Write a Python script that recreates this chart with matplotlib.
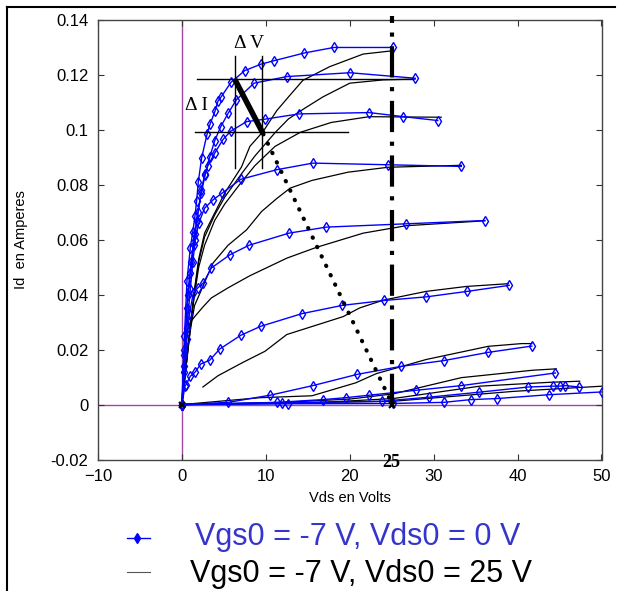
import numpy as np
import matplotlib
matplotlib.use('Agg')
import matplotlib.pyplot as plt
from matplotlib.lines import Line2D
from matplotlib.ticker import FuncFormatter

# courbes Vds0 = 0 V (bleu, avec marqueurs)
vds_a = [0, 0.3, 0.6, 1.0, 1.3, 1.55, 1.75, 1.95, 2.35, 3.0, 3.34, 3.93, 4.3, 4.7, 5.84, 7.5, 9.4, 11.0, 14.6, 18.1, 25.1]
id_a = [0, 0.025, 0.045, 0.057, 0.063, 0.0685, 0.074, 0.081, 0.0898, 0.0985, 0.102, 0.1067, 0.1105, 0.1121, 0.1173, 0.1216, 0.1239, 0.1252, 0.128, 0.130, 0.130]
vds_b = [0, 0.3, 0.7, 1.1, 1.5, 1.9, 2.3, 2.8, 3.3, 3.9, 4.6, 5.5, 6.5, 8.6, 12.5, 20.0, 27.8]
id_b = [0, 0.02, 0.04, 0.052, 0.062, 0.07, 0.077, 0.084, 0.09, 0.096, 0.101, 0.106, 0.111, 0.117, 0.1194, 0.1208, 0.1188]
vds_c = [0, 0.3, 0.6, 1.0, 1.4, 1.8, 2.3, 2.7, 3.1, 3.9, 4.9, 5.8, 7.7, 9.9, 13.9, 22.3, 26.4, 30.5]
id_c = [0, 0.018, 0.035, 0.048, 0.058, 0.067, 0.078, 0.0835, 0.087, 0.0915, 0.0965, 0.0995, 0.103, 0.1039, 0.1058, 0.1063, 0.1048, 0.1034]
vds_d = [0, 0.3, 0.6, 1.0, 1.3, 1.6, 2.0, 2.7, 3.7, 4.8, 7.0, 11.3, 15.6, 24.6, 33.3]
id_d = [0, 0.014, 0.028, 0.042, 0.052, 0.06, 0.066, 0.0715, 0.0745, 0.077, 0.082, 0.0855, 0.0879, 0.0873, 0.0867]
vds_e = [0, 0.3, 0.6, 0.9, 1.35, 1.9, 2.54, 3.5, 5.7, 8.0, 12.75, 17.2, 26.7, 36.1]
id_e = [0, 0.012, 0.024, 0.033, 0.0406, 0.0425, 0.0442, 0.0497, 0.0545, 0.058, 0.0624, 0.0646, 0.0658, 0.067]
vds_f = [0, 0.36, 0.5, 1.0, 1.6, 2.26, 3.3, 4.5, 7.0, 9.4, 14.3, 19.1, 24.1, 29.1, 34.0, 39.0]
id_f = [0, 0.0067, 0.0073, 0.0103, 0.0119, 0.0148, 0.0161, 0.0202, 0.0252, 0.0285, 0.0331, 0.0361, 0.0379, 0.0392, 0.0412, 0.0434]
vds_g = [0, 5.5, 10.5, 15.6, 20.9, 26.1, 31.2, 36.5, 41.7]
id_g = [0, 0.0008, 0.0034, 0.0069, 0.011, 0.0139, 0.016, 0.019, 0.0213]
vds_h = [0, 11.3, 16.8, 19.5, 22.3, 27.9, 33.3, 44.5]
id_h = [0, 0.0008, 0.0018, 0.0025, 0.0034, 0.0052, 0.0069, 0.0115]
vds_i = [0, 11.9, 23.8, 29.5, 35.4, 41.3, 44.2, 45.0, 45.7, 47.3]
id_i = [0, 0.0006, 0.0012, 0.0027, 0.0045, 0.0064, 0.0067, 0.0067, 0.0069, 0.0064]
vds_j = [0, 12.6, 25.1, 31.2, 34.4, 37.6, 43.8, 50.1]
id_j = [0, 0.0003, 0.0004, 0.0008, 0.0018, 0.0022, 0.0036, 0.0046]

# courbes Vds0 = 25 V (noir)
vds_k1 = [0, 0.5, 1.0, 1.5, 2.0, 2.7, 3.9, 5.1, 7.1, 8.1, 9.7, 11.3, 12.7, 14.4, 17.6, 21.6, 25.1]
id_k1 = [0, 0.015, 0.029, 0.042, 0.053, 0.0624, 0.0697, 0.077, 0.0865, 0.094, 0.0995, 0.107, 0.112, 0.118, 0.123, 0.1276, 0.1288]
vds_k2 = [0, 0.5, 1.0, 1.5, 2.0, 2.7, 3.9, 5.1, 7.1, 8.7, 11.1, 12.7, 14.7, 16.8, 20.0, 24.0, 27.8]
id_k2 = [0, 0.014, 0.028, 0.041, 0.052, 0.061, 0.069, 0.0755, 0.084, 0.0905, 0.099, 0.104, 0.108, 0.112, 0.117, 0.1182, 0.1185]
vds_k3 = [0, 0.5, 1.0, 1.5, 2.0, 2.7, 3.9, 5.1, 7.1, 8.7, 11.1, 14.1, 17.8, 22.3, 30.9]
id_k3 = [0, 0.014, 0.028, 0.04, 0.05, 0.058, 0.067, 0.073, 0.081, 0.087, 0.094, 0.0991, 0.1027, 0.1048, 0.1046]
vds_k4 = [0, 0.5, 1.0, 1.5, 2.5, 3.7, 5.5, 7.7, 9.5, 11.3, 12.9, 15.5, 19.8, 24.6, 33.3]
id_k4 = [0, 0.014, 0.027, 0.036, 0.043, 0.0515, 0.058, 0.0636, 0.0703, 0.075, 0.0788, 0.0816, 0.0846, 0.0864, 0.0871]
vds_k5 = [0, 0.3, 0.56, 1.0, 1.55, 2.5, 3.5, 5.5, 8.1, 12.5, 16.0, 21.6, 26.7, 36.1]
id_k5 = [0, 0.016, 0.026, 0.030, 0.0321, 0.0355, 0.0388, 0.0425, 0.0469, 0.0533, 0.0572, 0.0624, 0.0651, 0.0669]
vds_k6 = [2.5, 4.3, 7.3, 9.9, 12.5, 19.2, 21.2, 24.0, 29.1, 33.9, 38.9]
id_k6 = [0.0064, 0.0105, 0.0154, 0.0194, 0.0255, 0.032, 0.0352, 0.038, 0.0412, 0.043, 0.044]
vds_k7 = [0, 9.3, 15.5, 20.7, 23.2, 25.2, 29.1, 36.5, 40.5, 41.7]
id_k7 = [0, 0.0025, 0.0032, 0.0079, 0.0113, 0.013, 0.0164, 0.0212, 0.0222, 0.0222]
vds_k8 = [0, 12.0, 20.0, 25.2, 33.3, 41.8, 44.6]
id_k8 = [0, 0.0008, 0.002, 0.0039, 0.0098, 0.0125, 0.013]
vds_k9 = [0, 15.0, 25.2, 35.5, 43.8, 47.4]
id_k9 = [0, 0.0005, 0.0022, 0.0067, 0.0081, 0.0085]
vds_k10 = [0, 25.2, 39.5, 50.1]
id_k10 = [0, 0.0012, 0.0048, 0.0067]

blue_curves = [(vds_a, id_a), (vds_b, id_b), (vds_c, id_c), (vds_d, id_d), (vds_e, id_e),
               (vds_f, id_f), (vds_g, id_g), (vds_h, id_h), (vds_i, id_i), (vds_j, id_j)]
black_curves = [(vds_k1, id_k1), (vds_k2, id_k2), (vds_k3, id_k3), (vds_k4, id_k4), (vds_k5, id_k5),
                (vds_k6, id_k6), (vds_k7, id_k7), (vds_k8, id_k8), (vds_k9, id_k9), (vds_k10, id_k10)]

# construction Delta V / Delta I
dv_x = [6.3, 9.6]
di_y = [0.1184, 0.0994]
pente_x = [6.3, 9.7]
pente_y = [0.1184, 0.0985]
pointille_x = [9.7, 25.0]
pointille_y = [0.0985, 0.0005]
vds_repere = 25

legend_labels = ['Vgs0 = -7 V, Vds0 = 0 V', 'Vgs0 = -7 V, Vds0 = 25 V']

plt.rcParams['font.family'] = ['Liberation Sans', 'DejaVu Sans']
fig = plt.figure(figsize=(6.21, 5.91), dpi=100)
ax = fig.add_axes([98 / 621, 1 - 459.5 / 591, 503.5 / 621, 439.5 / 591])

magenta = '#a346a8'
ax.axhline(0, color=magenta, lw=1.0, zorder=1)
ax.axvline(0, color=magenta, lw=1.0, zorder=1)

for x, y in black_curves:
    ax.plot(x, y, color='black', lw=0.9, zorder=2)
for x, y in blue_curves:
    ax.plot(x, y, color='blue', lw=1.0, marker='d', ms=5.5, mfc='none', mew=1.0, zorder=3)

# réticule
ax.plot([dv_x[0]] * 2, [0.1268, 0.0862], color='black', lw=1.0, zorder=4)
ax.plot([dv_x[1]] * 2, [0.1268, 0.0862], color='black', lw=1.0, zorder=4)
ax.plot([1.75, 27.5], [di_y[0]] * 2, color='black', lw=1.0, zorder=4)
ax.plot([1.55, 19.8], [di_y[1]] * 2, color='black', lw=1.0, zorder=4)
ax.plot(pente_x, pente_y, color='black', lw=4, solid_capstyle='butt', zorder=5)
ax.plot(pointille_x, pointille_y, color='black', lw=3, dashes=(0.1, 2.4),
        dash_capstyle='round', zorder=5)
ax.plot([vds_repere, vds_repere], [0, 0.1415], color='black', lw=3,
        dashes=(7.5, 2.3, 1, 2.3), clip_on=False, zorder=5)
ax.plot([0, vds_repere], [0, 0], ls='none', marker='x', color='black', ms=5, mew=1.5, zorder=6)

ax.text(6.2, 0.1313, '\u0394 V', family='Liberation Serif', fontsize=14, va='center', ha='left')
ax.text(0.35, 0.109, '\u0394 I', family='Liberation Serif', fontsize=14, va='center', ha='left')
ax.text(vds_repere, -0.0212, '25', family='Liberation Serif', fontsize=13, fontweight='bold',
        va='center', ha='center')

ax.set_xlim(-10, 50)
ax.set_ylim(-0.02, 0.14)
ax.set_xticks(np.arange(-10, 51, 10))
ax.set_yticks(np.arange(-0.02, 0.141, 0.02))
ax.yaxis.set_major_formatter(FuncFormatter(lambda v, p: '%g' % round(v, 4)))
ax.tick_params(direction='in', length=4, top=True, right=True, labelsize=12, color='#333333')
ax.tick_params(axis='y', pad=7)
ax.tick_params(axis='x', pad=7)
for s in ax.spines.values():
    s.set_color('#444444')
    s.set_linewidth(1.0)
ax.set_xlabel('Vds en Volts', fontsize=10.5, labelpad=5)
ax.set_ylabel('Id  en Amperes', fontsize=10.5, labelpad=16)

# légende sous le graphique
fig.add_artist(Line2D([127 / 621, 150 / 621], [1 - 538 / 591] * 2, color='blue', lw=1.0,
                      transform=fig.transFigure))
fig.add_artist(Line2D([137 / 621], [1 - 538 / 591], color='blue', marker='d', ms=5,
                      transform=fig.transFigure))
fig.add_artist(Line2D([127 / 621, 150 / 621], [1 - 572 / 591] * 2, color='#555555', lw=0.8,
                      transform=fig.transFigure))
fig.text(195 / 621, 1 - 537 / 591, legend_labels[0], color='#3535cc', fontsize=22, va='center')
fig.text(190 / 621, 1 - 574 / 591, legend_labels[1], color='black', fontsize=22, va='center')

# cadre
fig.add_artist(Line2D([7 / 621, 615 / 621], [1 - 7 / 591] * 2, color='black', lw=1.5,
                      transform=fig.transFigure))
fig.add_artist(Line2D([7 / 621, 7 / 621], [0, 1 - 7 / 591], color='black', lw=1.5,
                      transform=fig.transFigure))

fig.savefig('out.png', dpi=100)
